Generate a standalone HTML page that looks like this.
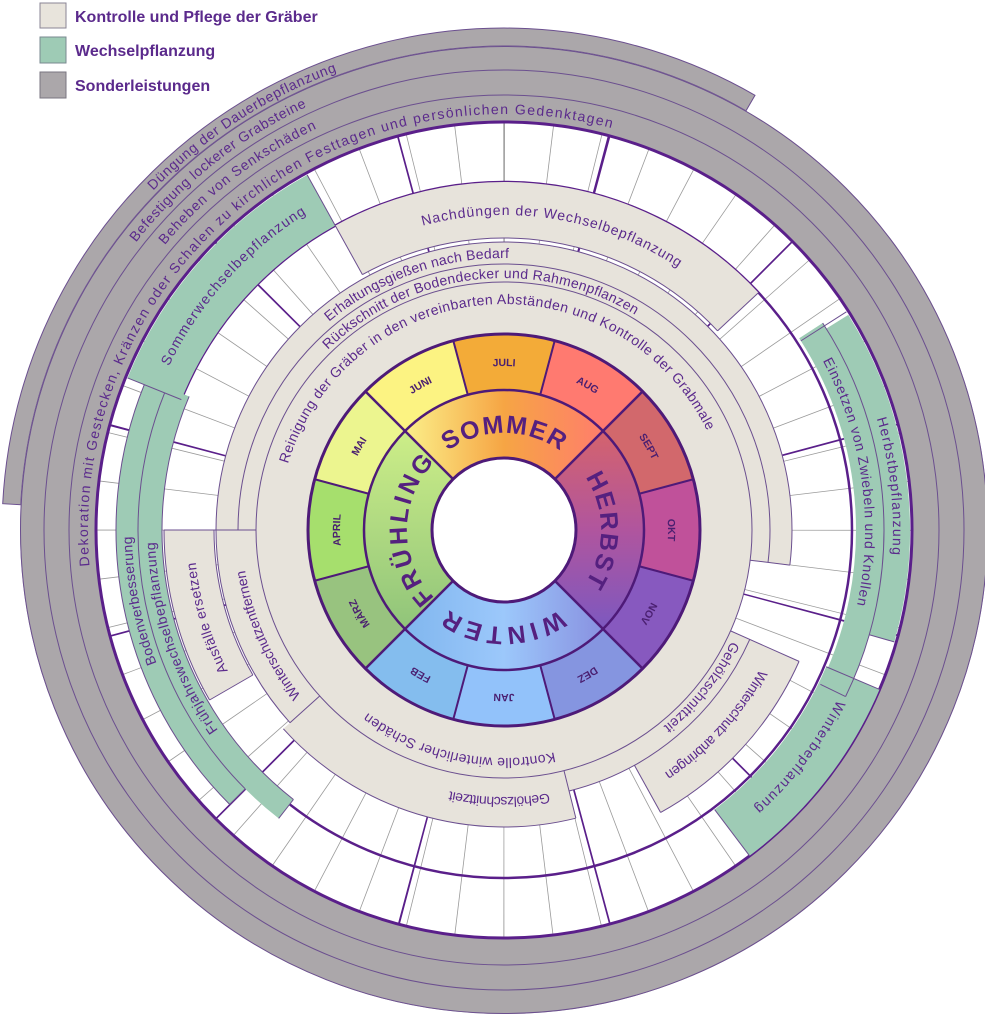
<!DOCTYPE html>
<html><head><meta charset="utf-8"><style>
html,body{margin:0;padding:0;background:#fff;width:985px;height:1024px;overflow:hidden}
svg{display:block;overflow:hidden}
.t{font-family:"Liberation Sans",sans-serif;fill:#5b2a8c;font-size:14px}
.o{fill:none;stroke:#6b4f8f;stroke-width:1}
.ln{stroke:#6b4f8f;stroke-width:1}
</style></head><body>
<svg width="985" height="1024" viewBox="0 0 985 1024" xmlns="http://www.w3.org/2000/svg">
<defs>
<linearGradient id="gS" gradientUnits="userSpaceOnUse" x1="-100" y1="0" x2="100" y2="0"><stop offset="0" stop-color="#fbf08a"/><stop offset="0.5" stop-color="#f6a544"/><stop offset="1" stop-color="#ff7d6c"/></linearGradient>
<linearGradient id="gH" gradientUnits="userSpaceOnUse" x1="0" y1="-100" x2="0" y2="100"><stop offset="0" stop-color="#d5636c"/><stop offset="0.5" stop-color="#b0559e"/><stop offset="1" stop-color="#7c58c0"/></linearGradient>
<linearGradient id="gW" gradientUnits="userSpaceOnUse" x1="-100" y1="0" x2="100" y2="0"><stop offset="0" stop-color="#80b6ee"/><stop offset="0.5" stop-color="#9cc8fb"/><stop offset="1" stop-color="#8890e0"/></linearGradient>
<linearGradient id="gF" gradientUnits="userSpaceOnUse" x1="0" y1="-100" x2="0" y2="100"><stop offset="0" stop-color="#cdee88"/><stop offset="1" stop-color="#90c47a"/></linearGradient>
<path id="p416" d="M0,416 A416,416 0 1,1 0,-416 A416,416 0 1,1 0,416"/>
<path id="p443" d="M0,443 A443,443 0 1,1 0,-443 A443,443 0 1,1 0,443"/>
<path id="p467" d="M0,467 A467,467 0 1,1 0,-467 A467,467 0 1,1 0,467"/>
<path id="p488" d="M0,488 A488,488 0 1,1 0,-488 A488,488 0 1,1 0,488"/>
<path id="p373" d="M0,373 A373,373 0 1,1 0,-373 A373,373 0 1,1 0,373"/>
<path id="p315" d="M0,315 A315,315 0 1,1 0,-315 A315,315 0 1,1 0,315"/>
<path id="p272" d="M0,272 A272,272 0 1,1 0,-272 A272,272 0 1,1 0,272"/>
<path id="p252" d="M0,252 A252,252 0 1,1 0,-252 A252,252 0 1,1 0,252"/>
<path id="p226" d="M0,226 A226,226 0 1,1 0,-226 A226,226 0 1,1 0,226"/>
<path id="p361" d="M0,361 A361,361 0 1,1 0,-361 A361,361 0 1,1 0,361"/>
<path id="p389" d="M0,389 A389,389 0 1,1 0,-389 A389,389 0 1,1 0,389"/>
<path id="p374" d="M0,374 A374,374 0 1,1 0,-374 A374,374 0 1,1 0,374"/>
<path id="p291" d="M0,291 A291,291 0 1,1 0,-291 A291,291 0 1,1 0,291"/>
<path id="p253" d="M0,253 A253,253 0 1,1 0,-253 A253,253 0 1,1 0,253"/>
<path id="p267" d="M0,267 A267,267 0 1,1 0,-267 A267,267 0 1,1 0,267"/>
<path id="p228" d="M0,228 A228,228 0 1,1 0,-228 A228,228 0 1,1 0,228"/>
<path id="p262" d="M0,262 A262,262 0 1,1 0,-262 A262,262 0 1,1 0,262"/>
<path id="p310" d="M0,310 A310,310 0 1,1 0,-310 A310,310 0 1,1 0,310"/>
<path id="p349" d="M0,349 A349,349 0 1,1 0,-349 A349,349 0 1,1 0,349"/>
<path id="p372" d="M0,372 A372,372 0 1,1 0,-372 A372,372 0 1,1 0,372"/>
<path id="p97" d="M0,97 A97,97 0 1,1 0,-97 A97,97 0 1,1 0,97"/>
<path id="p164" d="M0,164 A164,164 0 1,1 0,-164 A164,164 0 1,1 0,164"/>
</defs>

<!-- legend -->
<rect x="40" y="3" width="26" height="25" fill="#e8e4dc" stroke="#8a8494" stroke-width="1"/>
<rect x="40" y="37" width="26" height="26" fill="#9ecbb5" stroke="#7a8a90" stroke-width="1"/>
<rect x="40" y="72" width="26" height="26" fill="#aba7aa" stroke="#7a7680" stroke-width="1"/>
<text x="75" y="22" font-family="Liberation Sans, sans-serif" font-weight="bold" font-size="16" fill="#5b2a8c">Kontrolle und Pflege der Gräber</text>
<text x="75" y="56" font-family="Liberation Sans, sans-serif" font-weight="bold" font-size="16" fill="#5b2a8c">Wechselpflanzung</text>
<text x="75" y="91" font-family="Liberation Sans, sans-serif" font-weight="bold" font-size="16" fill="#5b2a8c">Sonderleistungen</text>

<g transform="translate(504,530)">
<!-- grey rings -->
<path d="M-501.3,-26.3 A502,502 0 0,1 251,-434.7 L242,-419.2 A484,484 0 0,0 -483.3,-25.3 Z" fill="#aba7aa" stroke="#6b4f8f" stroke-width="1"/>
<circle r="472" fill="none" stroke="#aba7aa" stroke-width="24"/>
<circle r="447.5" fill="none" stroke="#aba7aa" stroke-width="25"/>
<circle r="421.5" fill="none" stroke="#aba7aa" stroke-width="27"/>
<circle r="483.5" class="o"/>
<circle r="460" class="o"/>
<circle r="435" class="o"/>

<!-- white grid ring -->
<circle r="327" fill="#fff" stroke="none"/>
<circle r="327" fill="none" stroke="#9a9a9a" stroke-width="162" pathLength="360" stroke-dasharray="0.14 6.7831" transform="rotate(-90)"/>
<circle r="327" fill="none" stroke="#5a1f8a" stroke-width="162" pathLength="360" stroke-dasharray="0.3 29.7" transform="rotate(-75.15)"/>
<circle r="348" fill="none" stroke="#5a1f8a" stroke-width="2.5"/>
<circle r="408" fill="none" stroke="#5a1f8a" stroke-width="3"/>

<!-- beige blocks -->
<g fill="none" stroke="#e7e3db">
<circle r="257" stroke-width="18" pathLength="360" stroke-dasharray="187 999" transform="rotate(180)"/>
<circle r="277" stroke-width="22" pathLength="360" stroke-dasharray="187 999" transform="rotate(180)"/>
<circle r="320" stroke-width="56" pathLength="360" stroke-dasharray="76 999" transform="rotate(241)"/>
<circle r="268" stroke-width="40" pathLength="360" stroke-dasharray="42 999" transform="rotate(138)"/>
<circle r="315" stroke-width="50" pathLength="360" stroke-dasharray="30 999" transform="rotate(150)"/>
<circle r="272.5" stroke-width="49" pathLength="360" stroke-dasharray="62 999" transform="rotate(76)"/>
<circle r="258.5" stroke-width="21" pathLength="360" stroke-dasharray="52 999" transform="rotate(24)"/>
<circle r="296" stroke-width="54" pathLength="360" stroke-dasharray="37 999" transform="rotate(24)"/>
<circle r="222" stroke-width="52"/>
</g>
<g>
<circle r="266" class="o" pathLength="360" stroke-dasharray="187 999" transform="rotate(180)"/>
<circle r="288" class="o" pathLength="360" stroke-dasharray="187 999" transform="rotate(180)"/>
<line class="ln" y1="-248" y2="-288" transform="rotate(97)"/>
<circle r="292" class="o" pathLength="360" stroke-dasharray="76 999" transform="rotate(241)"/>
<line class="ln" y1="-292" y2="-348" transform="rotate(331)"/>
<line class="ln" y1="-292" y2="-348" transform="rotate(47)"/>
<circle r="288" class="o" pathLength="360" stroke-dasharray="42 999" transform="rotate(138)"/>
<line class="ln" y1="-248" y2="-288" transform="rotate(228)"/>
<line class="ln" y1="-248" y2="-290" transform="rotate(270)"/>
<circle r="290" class="o" pathLength="360" stroke-dasharray="30 999" transform="rotate(150)"/>
<circle r="340" class="o" pathLength="360" stroke-dasharray="30 999" transform="rotate(150)"/>
<line class="ln" y1="-290" y2="-340" transform="rotate(240)"/>
<line class="ln" y1="-290" y2="-340" transform="rotate(270)"/>
<circle r="297" class="o" pathLength="360" stroke-dasharray="62 999" transform="rotate(76)"/>
<line class="ln" y1="-248" y2="-297" transform="rotate(166)"/>
<circle r="269" class="o" pathLength="360" stroke-dasharray="52 999" transform="rotate(24)"/>
<circle r="323" class="o" pathLength="360" stroke-dasharray="37 999" transform="rotate(24)"/>
<line class="ln" y1="-248" y2="-323" transform="rotate(114)"/>
<line class="ln" y1="-269" y2="-323" transform="rotate(151)"/>
<circle r="248" class="o"/>
</g>

<!-- green blocks -->
<g fill="none" stroke="#9ecbb5">
<circle r="377" stroke-width="58" pathLength="360" stroke-dasharray="39 999" transform="rotate(202)"/>
<circle r="377" stroke-width="22" pathLength="360" stroke-dasharray="67 999" transform="rotate(135)"/>
<circle r="354" stroke-width="24" pathLength="360" stroke-dasharray="75 999" transform="rotate(128)"/>
<circle r="366" stroke-width="28" pathLength="360" stroke-dasharray="59 999" transform="rotate(-33)"/>
<circle r="393" stroke-width="26" pathLength="360" stroke-dasharray="48 999" transform="rotate(-32)"/>
<circle r="379" stroke-width="58" pathLength="360" stroke-dasharray="30 999" transform="rotate(23)"/>
</g>
<g>
<line class="ln" y1="-348" y2="-406" transform="rotate(292)"/>
<line class="ln" y1="-348" y2="-406" transform="rotate(331)"/>
<circle r="366" class="o" pathLength="360" stroke-dasharray="67 999" transform="rotate(135)"/>
<circle r="388" class="o" pathLength="360" stroke-dasharray="67 999" transform="rotate(135)"/>
<line class="ln" y1="-366" y2="-388" transform="rotate(225)"/>
<circle r="342" class="o" pathLength="360" stroke-dasharray="75 999" transform="rotate(128)"/>
<line class="ln" y1="-342" y2="-366" transform="rotate(218)"/>
<circle r="380" class="o" pathLength="360" stroke-dasharray="59 999" transform="rotate(-33)"/>
<line class="ln" y1="-352" y2="-406" transform="rotate(57.5)"/>
<line class="ln" y1="-352" y2="-380" transform="rotate(116)"/>
<line class="ln" y1="-380" y2="-406" transform="rotate(106)"/>
<line class="ln" y1="-350" y2="-408" transform="rotate(113)"/>
<line class="ln" y1="-350" y2="-408" transform="rotate(143)"/>
</g>

<!-- months -->
<g fill="none">
<circle r="168" stroke="#f3ab38" stroke-width="56" pathLength="360" stroke-dasharray="30 999" transform="rotate(-105)"/>
<circle r="168" stroke="#ff7a70" stroke-width="56" pathLength="360" stroke-dasharray="30 999" transform="rotate(-75)"/>
<circle r="168" stroke="#d2686c" stroke-width="56" pathLength="360" stroke-dasharray="30 999" transform="rotate(-45)"/>
<circle r="168" stroke="#c0519a" stroke-width="56" pathLength="360" stroke-dasharray="30 999" transform="rotate(-15)"/>
<circle r="168" stroke="#8759bf" stroke-width="56" pathLength="360" stroke-dasharray="30 999" transform="rotate(15)"/>
<circle r="168" stroke="#8595e0" stroke-width="56" pathLength="360" stroke-dasharray="30 999" transform="rotate(45)"/>
<circle r="168" stroke="#92c2fa" stroke-width="56" pathLength="360" stroke-dasharray="30 999" transform="rotate(75)"/>
<circle r="168" stroke="#84bdee" stroke-width="56" pathLength="360" stroke-dasharray="30 999" transform="rotate(105)"/>
<circle r="168" stroke="#98c37f" stroke-width="56" pathLength="360" stroke-dasharray="30 999" transform="rotate(135)"/>
<circle r="168" stroke="#a6df6d" stroke-width="56" pathLength="360" stroke-dasharray="30 999" transform="rotate(165)"/>
<circle r="168" stroke="#ecf58f" stroke-width="56" pathLength="360" stroke-dasharray="30 999" transform="rotate(195)"/>
<circle r="168" stroke="#fcf382" stroke-width="56" pathLength="360" stroke-dasharray="30 999" transform="rotate(225)"/>
</g>
<!-- seasons -->
<path d="M-99,-99 A140,140 0 0,1 99,-99 L50.9,-50.9 A72,72 0 0,0 -50.9,-50.9 Z" fill="url(#gS)"/>
<path d="M99,-99 A140,140 0 0,1 99,99 L50.9,50.9 A72,72 0 0,0 50.9,-50.9 Z" fill="url(#gH)"/>
<path d="M99,99 A140,140 0 0,1 -99,99 L-50.9,50.9 A72,72 0 0,0 50.9,50.9 Z" fill="url(#gW)"/>
<path d="M-99,99 A140,140 0 0,1 -99,-99 L-50.9,-50.9 A72,72 0 0,0 -50.9,50.9 Z" fill="url(#gF)"/>
<circle r="72" fill="#fff" stroke="#4e1a78" stroke-width="3"/>
<circle r="140" fill="none" stroke="#4e1a78" stroke-width="2.5"/>
<circle r="196" fill="none" stroke="#4e1a78" stroke-width="3"/>
<g stroke="#4e1a78" stroke-width="2.5">
<line y1="-72" y2="-196" transform="rotate(45)"/>
<line y1="-72" y2="-196" transform="rotate(135)"/>
<line y1="-72" y2="-196" transform="rotate(225)"/>
<line y1="-72" y2="-196" transform="rotate(315)"/>
</g>
<g stroke="#4e1a78" stroke-width="2">
<line y1="-140" y2="-196" transform="rotate(15)"/>
<line y1="-140" y2="-196" transform="rotate(75)"/>
<line y1="-140" y2="-196" transform="rotate(105)"/>
<line y1="-140" y2="-196" transform="rotate(165)"/>
<line y1="-140" y2="-196" transform="rotate(195)"/>
<line y1="-140" y2="-196" transform="rotate(255)"/>
<line y1="-140" y2="-196" transform="rotate(285)"/>
<line y1="-140" y2="-196" transform="rotate(345)"/>
</g>

<!-- season labels -->
<g font-family="Liberation Sans, sans-serif" font-weight="bold" font-size="25" fill="#55207f">
<text transform="rotate(0)"><textPath href="#p97" startOffset="50%" text-anchor="middle" textLength="120" lengthAdjust="spacing">SOMMER</textPath></text>
<text transform="rotate(90)"><textPath href="#p97" startOffset="50%" text-anchor="middle" textLength="112" lengthAdjust="spacing">HERBST</textPath></text>
<text transform="rotate(180)"><textPath href="#p97" startOffset="50%" text-anchor="middle" textLength="118" lengthAdjust="spacing">WINTER</textPath></text>
<text transform="rotate(270)"><textPath href="#p97" startOffset="50%" text-anchor="middle" textLength="150" lengthAdjust="spacing">FRÜHLING</textPath></text>
</g>
<!-- month labels -->
<g font-family="Liberation Sans, sans-serif" font-weight="bold" font-size="10.5" fill="#4a1f70">
<text transform="rotate(0)"><textPath href="#p164" startOffset="50%" text-anchor="middle">JULI</textPath></text>
<text transform="rotate(30)"><textPath href="#p164" startOffset="50%" text-anchor="middle">AUG</textPath></text>
<text transform="rotate(60)"><textPath href="#p164" startOffset="50%" text-anchor="middle">SEPT</textPath></text>
<text transform="rotate(90)"><textPath href="#p164" startOffset="50%" text-anchor="middle">OKT</textPath></text>
<text transform="rotate(120)"><textPath href="#p164" startOffset="50%" text-anchor="middle">NOV</textPath></text>
<text transform="rotate(150)"><textPath href="#p164" startOffset="50%" text-anchor="middle">DEZ</textPath></text>
<text transform="rotate(180)"><textPath href="#p164" startOffset="50%" text-anchor="middle">JAN</textPath></text>
<text transform="rotate(210)"><textPath href="#p164" startOffset="50%" text-anchor="middle">FEB</textPath></text>
<text transform="rotate(240)"><textPath href="#p164" startOffset="50%" text-anchor="middle">MÄRZ</textPath></text>
<text transform="rotate(270)"><textPath href="#p164" startOffset="50%" text-anchor="middle">APRIL</textPath></text>
<text transform="rotate(300)"><textPath href="#p164" startOffset="50%" text-anchor="middle">MAI</textPath></text>
<text transform="rotate(330)"><textPath href="#p164" startOffset="50%" text-anchor="middle">JUNI</textPath></text>
</g>

<!-- band labels -->
<text class="t" transform="rotate(320)"><textPath href="#p416" startOffset="50%" text-anchor="middle" textLength="798" lengthAdjust="spacing">Dekoration mit Gestecken, Kränzen oder Schalen zu kirchlichen Festtagen und persönlichen Gedenktagen</textPath></text>
<text class="t" transform="rotate(322.5)"><textPath href="#p443" startOffset="50%" text-anchor="middle" textLength="193" lengthAdjust="spacing">Beheben von Senkschäden</textPath></text>
<text class="t" transform="rotate(321.5)"><textPath href="#p467" startOffset="50%" text-anchor="middle" textLength="220" lengthAdjust="spacing">Befestigung lockerer Grabsteine</textPath></text>
<text class="t" transform="rotate(327)"><textPath href="#p488" startOffset="50%" text-anchor="middle" textLength="221" lengthAdjust="spacing">Düngung der Dauerbepflanzung</textPath></text>
<text class="t" transform="rotate(312)"><textPath href="#p373" startOffset="50%" text-anchor="middle" textLength="208" lengthAdjust="spacing">Sommerwechselbepflanzung</textPath></text>
<text class="t" transform="rotate(9.3)"><textPath href="#p315" startOffset="50%" text-anchor="middle" textLength="267" lengthAdjust="spacing">Nachdüngen der Wechselbepflanzung</textPath></text>
<text class="t" font-size="13" transform="rotate(340.5)"><textPath href="#p272" startOffset="50%" text-anchor="middle" textLength="195" lengthAdjust="spacing">Erhaltungsgießen nach Bedarf</textPath></text>
<text class="t" font-size="13" transform="rotate(353.5)"><textPath href="#p252" startOffset="50%" text-anchor="middle" textLength="333" lengthAdjust="spacing">Rückschnitt der Bodendecker und Rahmenpflanzen</textPath></text>
<text class="t" transform="rotate(355.5)"><textPath href="#p226" startOffset="50%" text-anchor="middle" textLength="540" lengthAdjust="spacing">Reinigung der Gräber in den vereinbarten Abständen und Kontrolle der Grabmale</textPath></text>
<text class="t" transform="rotate(82)"><textPath href="#p361" startOffset="50%" text-anchor="middle" textLength="252" lengthAdjust="spacing">Einsetzen von Zwiebeln und Knollen</textPath></text>
<text class="t" transform="rotate(83.5)"><textPath href="#p389" startOffset="50%" text-anchor="middle" textLength="138" lengthAdjust="spacing">Herbstbepflanzung</textPath></text>
<text class="t" transform="rotate(127.5)"><textPath href="#p374" startOffset="50%" text-anchor="middle" textLength="137" lengthAdjust="spacing">Winterbepflanzung</textPath></text>
<text class="t" font-size="13" transform="rotate(132.6)"><textPath href="#p291" startOffset="50%" text-anchor="middle" textLength="142" lengthAdjust="spacing">Winterschutz anbringen</textPath></text>
<text class="t" font-size="12" transform="rotate(128.5)"><textPath href="#p253" startOffset="50%" text-anchor="middle" textLength="110" lengthAdjust="spacing">Gehölzschnittzeit</textPath></text>
<text class="t" font-size="12" transform="rotate(181)"><textPath href="#p267" startOffset="50%" text-anchor="middle" textLength="100" lengthAdjust="spacing">Gehölzschnittzeit</textPath></text>
<text class="t" font-size="13" transform="rotate(192)"><textPath href="#p228" startOffset="50%" text-anchor="middle" textLength="197" lengthAdjust="spacing">Kontrolle winterlicher Schäden</textPath></text>
<text class="t" font-size="13" transform="rotate(246)"><textPath href="#p262" startOffset="50%" text-anchor="middle" textLength="139" lengthAdjust="spacing">Winterschutzentfernen</textPath></text>
<text class="t" transform="rotate(253.5)"><textPath href="#p310" startOffset="50%" text-anchor="middle" textLength="114" lengthAdjust="spacing">Ausfälle ersetzen</textPath></text>
<text class="t" transform="rotate(251.5)"><textPath href="#p349" startOffset="50%" text-anchor="middle" textLength="201" lengthAdjust="spacing">Frühjahrswechselbepflanzung</textPath></text>
<text class="t" transform="rotate(259)"><textPath href="#p372" startOffset="50%" text-anchor="middle" textLength="130" lengthAdjust="spacing">Bodenverbesserung</textPath></text>
</g>
</svg>
</body></html>
